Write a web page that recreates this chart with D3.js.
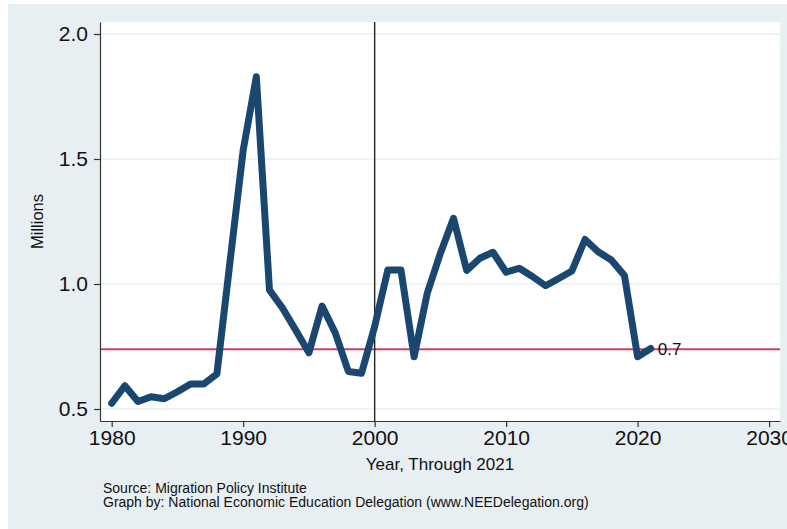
<!DOCTYPE html>
<html><head><meta charset="utf-8">
<script src="https://cdn.jsdelivr.net/npm/d3@7"></script>
<style>
body{margin:0;background:#fff;}
svg{display:block;font-family:"Liberation Sans",Arial,Helvetica,sans-serif;}
</style>
</head><body>
<svg id="chart" width="787" height="529"></svg>
<script>
// ---- data ----
const years = [1980,1981,1982,1983,1984,1985,1986,1987,1988,1989,
               1990,1991,1992,1993,1994,1995,1996,1997,1998,1999,
               2000,2001,2002,2003,2004,2005,2006,2007,2008,2009,
               2010,2011,2012,2013,2014,2015,2016,2017,2018,2019,
               2020,2021];
const millions = [0.523,0.593,0.530,0.549,0.541,0.569,0.600,0.600,0.640,1.090,
                  1.535,1.829,0.976,0.903,0.815,0.725,0.912,0.805,0.650,0.643,
                  0.830,1.056,1.056,0.709,0.963,1.123,1.263,1.054,1.103,1.127,
                  1.047,1.063,1.030,0.993,1.022,1.052,1.178,1.129,1.096,1.034,
                  0.709,0.742];
const refValue = 0.739;
const refLabel = "0.7";
const markerYear = 2000;
const yTicks = [0.5, 1.0, 1.5, 2.0];
const xTicks = [1980, 1990, 2000, 2010, 2020, 2030];
const yTitle = "Millions";
const xTitle = "Year, Through 2021";
const notes = ["Source: Migration Policy Institute",
               "Graph by: National Economic Education Delegation (www.NEEDelegation.org)"];

// ---- layout ----
const svg = d3.select("#chart");
const P = {left:100, right:780, top:22, bottom:421};

const x = d3.scaleLinear().domain([1979.11, 2030.83]).range([P.left, P.right]);
const y = d3.scaleLinear().domain([0.452, 2.048]).range([P.bottom, P.top]);

// background
svg.append("rect").attr("x",8).attr("y",4).attr("width",779).attr("height",525).attr("fill","#e8eff2");
svg.append("rect").attr("x",P.left).attr("y",P.top).attr("width",P.right-P.left).attr("height",P.bottom-P.top).attr("fill","#ffffff");

// gridlines
svg.append("g").selectAll("line").data(yTicks).join("line")
  .attr("x1",P.left).attr("x2",P.right)
  .attr("y1",d=>y(d)).attr("y2",d=>y(d))
  .attr("stroke","#e9eff2").attr("stroke-width",1.5);

// reference line
svg.append("line")
  .attr("x1",P.left).attr("x2",P.right)
  .attr("y1",y(refValue)).attr("y2",y(refValue))
  .attr("stroke","#c9416b").attr("stroke-width",2);

// vertical marker line
svg.append("line")
  .attr("x1",x(markerYear)).attr("x2",x(markerYear))
  .attr("y1",P.top).attr("y2",P.bottom)
  .attr("stroke","#222").attr("stroke-width",1.4);

// data line
const data = years.map((yr,i)=>({yr, v:millions[i]}));
svg.append("path").datum(data)
  .attr("fill","none")
  .attr("stroke","#1a476f")
  .attr("stroke-width",7)
  .attr("stroke-linejoin","round")
  .attr("stroke-linecap","round")
  .attr("d", d3.line().x(d=>x(d.yr)).y(d=>y(d.v)));

// end label
const last = data[data.length-1];
svg.append("text")
  .attr("x", x(last.yr)+7).attr("y", y(last.v))
  .attr("dy","0.36em")
  .attr("font-size",17).attr("fill","#111")
  .text(refLabel);

// axes
const yAxis = svg.append("g").attr("transform",`translate(${P.left},0)`)
  .call(d3.axisLeft(y).tickValues(yTicks).tickFormat(d3.format(".1f")).tickSize(6).tickSizeOuter(0).tickPadding(6));
const xAxis = svg.append("g").attr("transform",`translate(0,${P.bottom})`)
  .call(d3.axisBottom(x).tickValues(xTicks).tickFormat(d3.format("d")).tickSize(6).tickSizeOuter(0).tickPadding(3));

[yAxis, xAxis].forEach(g=>{
  g.select(".domain").attr("stroke","#333").attr("stroke-width",1.2);
  g.selectAll(".tick line").attr("stroke","#333").attr("stroke-width",1.2);
  g.selectAll(".tick text").attr("font-size",21).attr("fill","#111")
    .attr("font-family","'Liberation Sans',Arial,sans-serif");
});

// titles
svg.append("text")
  .attr("transform",`translate(43,${(P.top+P.bottom)/2}) rotate(-90)`)
  .attr("text-anchor","middle").attr("font-size",16.5).attr("fill","#111")
  .text(yTitle);
svg.append("text")
  .attr("x",(P.left+P.right)/2).attr("y",470)
  .attr("text-anchor","middle").attr("font-size",17).attr("fill","#111")
  .text(xTitle);

svg.append("g").selectAll("text").data(notes).join("text")
  .attr("x",103).attr("y",(d,i)=>492.5+i*14)
  .attr("font-size",14).attr("fill","#111")
  .text(d=>d);
</script>
</body></html>
